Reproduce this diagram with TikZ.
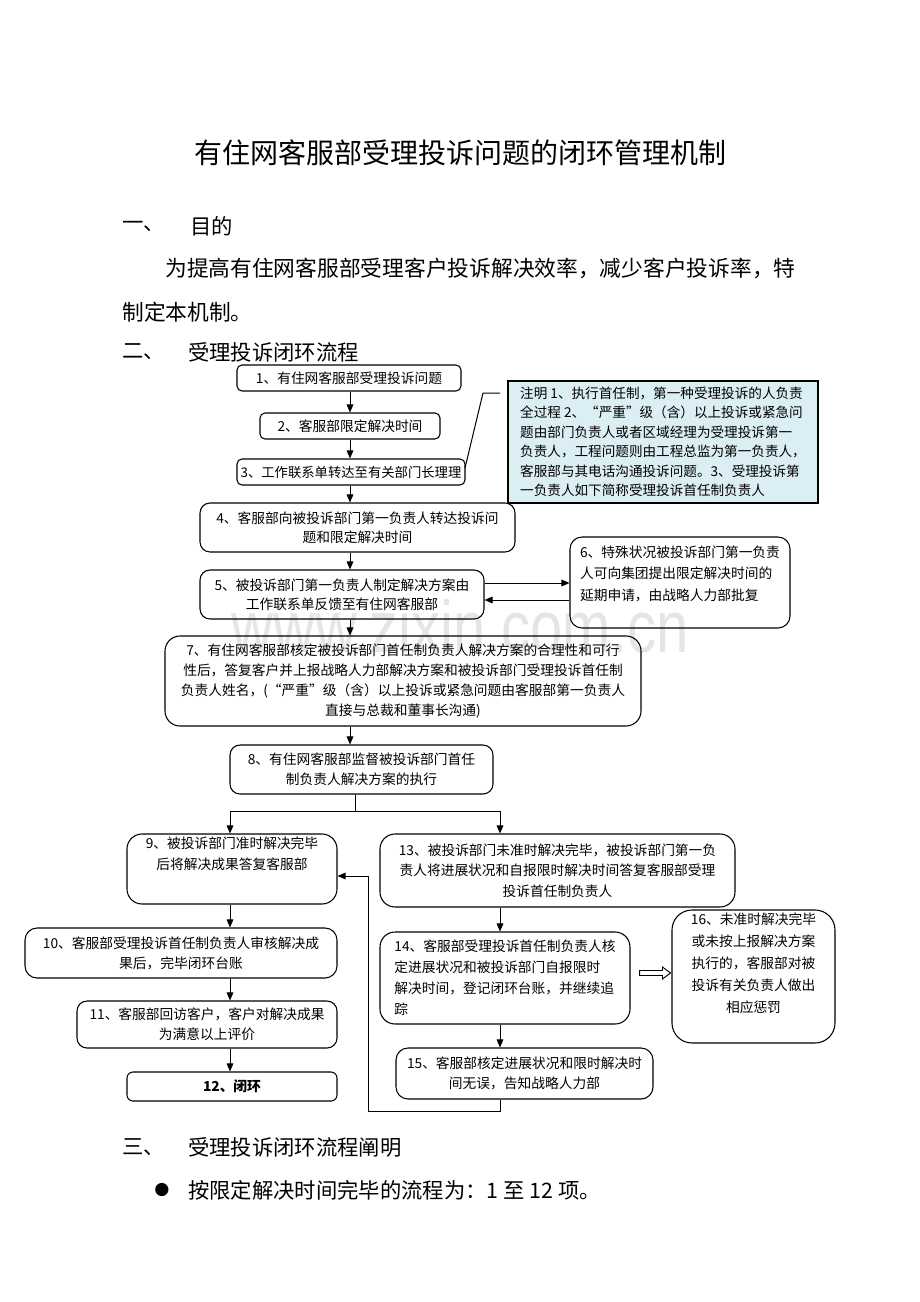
\documentclass[tikz,border=0pt]{standalone}
\usepackage{fontspec}
\setmainfont{Noto Sans CJK SC}
\newfontfamily\wmfont{Liberation Sans}
\newfontfamily\symfont{DejaVu Sans}
\usetikzlibrary{arrows.meta,calc}
\definecolor{notefill}{RGB}{219,238,244}
\def\PX{0.75pt}
\tikzset{
  box/.style={draw, line width=0.8pt, inner sep=0pt, align=center,
    font=\fontsize{10.3}{15}\selectfont},
  rc/.style={rounded corners=#1*\PX},
  arr/.style={-{Triangle[length=6pt,width=5pt]}, line width=0.75pt},
  ln/.style={line width=0.75pt},
  head/.style={anchor=west, inner sep=0pt, font=\fontsize{16}{18}\selectfont},
  para/.style={anchor=west, inner sep=0pt, font=\fontsize{16.3}{18}\selectfont},
}
\begin{document}
\begin{tikzpicture}[x=0.75pt, y=-0.75pt]
\useasboundingbox[fill=white] (0,0) rectangle (920,1302);

% watermark
\node[anchor=base, inner sep=0pt, text=black!10, xscale=0.79,
  font=\wmfont\fontsize{55}{60}\selectfont] (wm) at (460,652) {www.zixin.com.cn};

% title and text
\node[inner sep=0pt, font=\fontsize{21}{24}\selectfont] (title) at (460,153)
  {有住网客服部受理投诉问题的闭环管理机制};
\node[head] (h1a) at (122,226) {一、};
\node[head] (h1b) at (190,226) {目的};
\node[para] (p1) at (165,268) {为提高有住网客服部受理客户投诉解决效率，减少客户投诉率，特};
\node[para] (p2) at (122,312) {制定本机制。};
\node[head] (h2a) at (122,352) {二、};
\node[head] (h2b) at (188,352) {受理投诉闭环流程};
\node[head] (h3a) at (122,1147) {三、};
\node[head] (h3b) at (188,1147) {受理投诉闭环流程阐明};
\node[inner sep=0pt, font=\symfont\fontsize{13}{14}\selectfont] (bul) at (162,1190) {●};
\node[para, font=\fontsize{16}{18}\selectfont] (p3) at (188,1190) {按限定解决时间完毕的流程为：1 至 12 项。};

% flowchart boxes
\node[box, rc=5, minimum width=224*\PX, minimum height=26*\PX] (n1) at (349,378)
  {1、有住网客服部受理投诉问题};
\node[box, rc=5, minimum width=180*\PX, minimum height=26*\PX] (n2) at (350,426)
  {2、客服部限定解决时间};
\node[box, rc=5, minimum width=228*\PX, minimum height=26*\PX,
  font=\fontsize{10}{15}\selectfont] (n3) at (351,472)
  {3、工作联系单转达至有关部门长理理};
\node[box, fill=notefill, align=left, minimum width=310*\PX, minimum height=122*\PX,
  font=\fontsize{10.2}{14.6}\selectfont] (note) at (663,442)
  {注明 1、执行首任制，第一种受理投诉的人负责\\
   全过程 2、“严重”级（含）以上投诉或紧急问\\
   题由部门负责人或者区域经理为受理投诉第一\\
   负责人，工程问题则由工程总监为第一负责人，\\
   客服部与其电话沟通投诉问题。3、受理投诉第\\
   一负责人如下简称受理投诉首任制负责人};
\node[box, rc=10, minimum width=315*\PX, minimum height=49*\PX,
  font=\fontsize{10.3}{14.3}\selectfont] (n4) at (357.5,527.5)
  {4、客服部向被投诉部门第一负责人转达投诉问\\题和限定解决时间};
\node[box, rc=10, minimum width=284*\PX, minimum height=49*\PX,
  font=\fontsize{10.3}{14.3}\selectfont] (n5) at (342,594.5)
  {5、被投诉部门第一负责人制定解决方案由\\工作联系单反馈至有住网客服部};
\node[box, rc=12, align=left, minimum width=220*\PX, minimum height=91*\PX,
  font=\fontsize{10.3}{16}\selectfont] (n6) at (680,582.5)
  {6、特殊状况被投诉部门第一负责\\人可向集团提出限定解决时间的\\延期申请，由战略人力部批复\\[-2pt]\mbox{}};
\node[box, rc=15, minimum width=476*\PX, minimum height=90*\PX,
  font=\fontsize{10.3}{15.2}\selectfont] (n7) at (403,681)
  {7、有住网客服部核定被投诉部门首任制负责人解决方案的合理性和可行\\
   性后，答复客户并上报战略人力部解决方案和被投诉部门受理投诉首任制\\
   负责人姓名，(“严重”级（含）以上投诉或紧急问题由客服部第一负责人\\
   直接与总裁和董事长沟通)};
\node[box, rc=10, minimum width=263*\PX, minimum height=49*\PX,
  font=\fontsize{10.3}{15}\selectfont] (n8) at (361.5,769.5)
  {8、有住网客服部监督被投诉部门首任\\制负责人解决方案的执行};
\node[box, rc=15, minimum width=210*\PX, minimum height=70*\PX,
  font=\fontsize{10.3}{15.5}\selectfont] (n9) at (232,869)
  {9、被投诉部门准时解决完毕\\后将解决成果答复客服部\\[8pt]\mbox{}};
\node[box, rc=15, minimum width=355*\PX, minimum height=73*\PX,
  font=\fontsize{10.3}{15.5}\selectfont] (n13) at (557.5,870.5)
  {13、被投诉部门未准时解决完毕，被投诉部门第一负\\
   责人将进展状况和自报限时解决时间答复客服部受理\\
   投诉首任制负责人};
\node[box, rc=12, minimum width=312*\PX, minimum height=50*\PX,
  font=\fontsize{10.3}{15}\selectfont] (n10) at (181,953)
  {10、客服部受理投诉首任制负责人审核解决成\\果后，完毕闭环台账};
\node[box, rc=10, minimum width=260*\PX, minimum height=47*\PX,
  font=\fontsize{10.3}{15}\selectfont] (n11) at (207,1024.5)
  {11、客服部回访客户，客户对解决成果\\为满意以上评价};
\node[box, rc=6, minimum width=210*\PX, minimum height=29*\PX,
  font=\bfseries\fontsize{10.3}{15}\selectfont] (n12) at (232,1086.5)
  {12、闭环};
\node[box, rc=15, align=left, minimum width=250*\PX, minimum height=92*\PX,
  font=\fontsize{10.3}{15.7}\selectfont] (n14) at (505,978)
  {14、客服部受理投诉首任制负责人核\\
   定进展状况和被投诉部门自报限时\\
   解决时间，登记闭环台账，并继续追\\
   踪};
\node[box, rc=12, minimum width=257*\PX, minimum height=51*\PX,
  font=\fontsize{10.3}{15.5}\selectfont] (n15) at (524.5,1073.5)
  {15、客服部核定进展状况和限时解决时\\间无误，告知战略人力部};
\node[box, rc=20, minimum width=163*\PX, minimum height=133*\PX,
  font=\fontsize{10.3}{16.5}\selectfont] (n16) at (753.5,976.5)
  {16、未准时解决完毕\\或未按上报解决方案\\执行的，客服部对被\\投诉有关负责人做出\\相应惩罚\\[4pt]\mbox{}};

% helper coordinates
\coordinate (x350) at (350,0);
\coordinate (x355) at (355,0);
\coordinate (x230) at (230,0);
\coordinate (x500) at (500,0);
\coordinate (y583) at (0,583);
\coordinate (y600) at (0,600);
\coordinate (y973) at (0,973);
\coordinate (spC) at (355,811);
\coordinate (spL) at (230,811);
\coordinate (spR) at (500,811);
\coordinate (lp1) at (368,1111);
\coordinate (lp2) at (368,876);
\coordinate (cl1) at (483,393);
\coordinate (cl2) at (500,393);
\coordinate (cl0) at (465,468);

% connectors
\draw[arr] (n1.south -| x350) -- (n2.north -| x350);
\draw[arr] (n2.south -| x350) -- (n3.north -| x350);
\draw[arr] (n3.south -| x350) -- (n4.north -| x350);
\draw[arr] (n4.south -| x350) -- (n5.north -| x350);
\draw[arr] (n5.south -| x350) -- (n7.north -| x350);
\draw[arr] (n7.south -| x350) -- (n8.north -| x350);
\draw[arr] (n5.east |- y583) -- (n6.west |- y583);
\draw[arr] (n6.west |- y600) -- (n5.east |- y600);
\draw[ln] (n8.south -| x355) -- (spC);
\draw[ln] (spL) -- (spR);
\draw[arr] (spL) -- (n9.north -| spL);
\draw[arr] (spR) -- (n13.north -| spR);
\draw[arr] (n9.south -| x230) -- (n10.north -| x230);
\draw[arr] (n10.south -| x230) -- (n11.north -| x230);
\draw[arr] (n11.south -| x230) -- (n12.north -| x230);
\draw[arr] (n13.south -| x500) -- (n14.north -| x500);
\draw[arr] (n14.south -| x500) -- (n15.north -| x500);
\draw[arr] (n15.south -| x500) |- (lp1) -- (lp2) -- (n9.east |- lp2);
\draw[ln] (cl0) -- (cl1) -- (cl2);
% hollow block arrow 14 => 16
\coordinate (ha) at ($(n14.east |- y973)+(9,0)$);
\coordinate (hb) at ($(n16.west |- y973)+(-1,0)$);
\draw[line width=0.7pt, fill=white, line join=miter]
  ($(ha)+(0,-2.5)$) -- ($(hb)+(-8,-2.5)$) -- ($(hb)+(-8,-6)$) -- (hb)
  -- ($(hb)+(-8,6)$) -- ($(hb)+(-8,2.5)$) -- ($(ha)+(0,2.5)$) -- cycle;
\end{tikzpicture}
\end{document}
